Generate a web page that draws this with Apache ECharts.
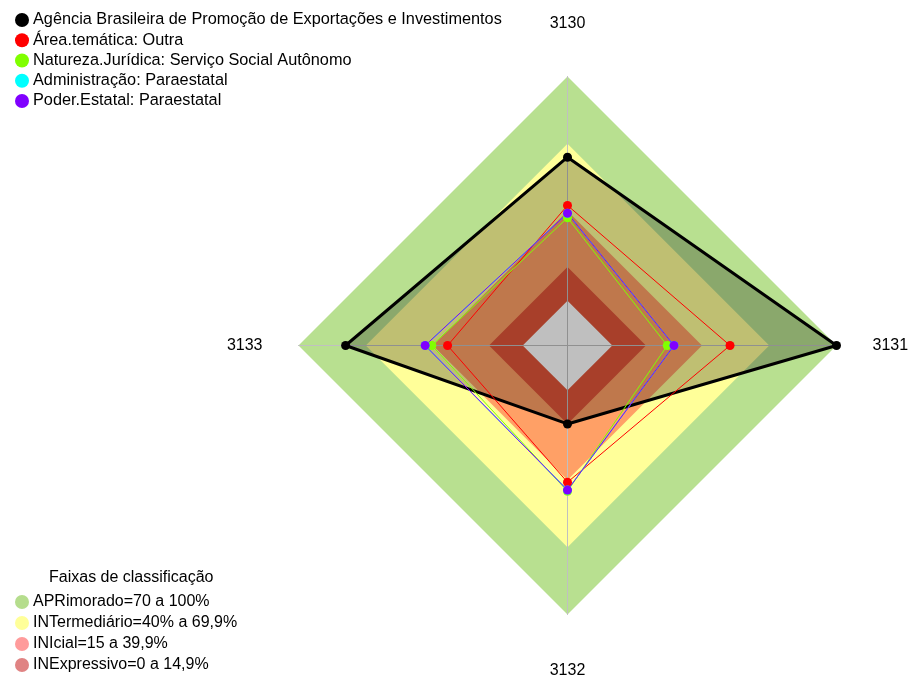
<!DOCTYPE html>
<html>
<head>
<meta charset="utf-8">
<script src="https://cdn.jsdelivr.net/npm/echarts@6/dist/echarts.min.js"></script>
<style>html,body{margin:0;padding:0;background:#fff}#c{width:908px;height:678px}</style>
</head>
<body>
<div id="c"></div>
<script>
// Indicators in clockwise order from top
const indicators = ['3130', '3131', '3132', '3133'];
const axisMin = -20, axisMax = 100;

const seriesNames = [
  'Agência Brasileira de Promoção de Exportações e Investimentos',
  'Área.temática: Outra',
  'Natureza.Jurídica: Serviço Social Autônomo',
  'Administração: Paraestatal',
  'Poder.Estatal: Paraestatal'
];
const seriesColors = ['#000000', '#ff0000', '#80ff00', '#00ffff', '#8000ff'];
// values per indicator [3130, 3131, 3132, 3133]
const agencia = [64, 100, 15, 79];
const areaTematica = [42.5, 52.5, 41, 33.5];
const naturezaJuridica = [37, 24.5, 45, 40.5];
const administracao = [39, 27.5, 44.5, 43.5];
const poderEstatal = [39, 27.5, 44.5, 43.5];
const seriesValues = [agencia, areaTematica, naturezaJuridica, administracao, poderEstatal];

const bandNames = ['APRimorado=70 a 100%', 'INTermediário=40% a 69,9%', 'INIcial=15 a 39,9%', 'INExpressivo=0 a 14,9%'];
const bandLimits = [100, 70, 40, 15];
const bandFill = ['#b8e090', '#ffff99', '#ffa066', '#e05538'];
const bandLegendColors = ['#b5dd8d', '#ffff99', '#ff9b9b', '#e08383'];

// ECharts places indicators counter-clockwise; reorder to top, left, bottom, right
const order = [0, 3, 2, 1];
const reorder = arr => order.map(i => arr[i]);

const font = 'Liberation Sans, Arial, sans-serif';
const series = [];
bandLimits.forEach((lim, i) => {
  series.push({
    type: 'radar', name: bandNames[i], z: 1, silent: true,
    symbol: 'none',
    itemStyle: { color: bandLegendColors[i] },
    lineStyle: { width: 0, opacity: 0 },
    areaStyle: { color: bandFill[i], opacity: 1 },
    data: [{ value: reorder(indicators.map(() => lim)), name: bandNames[i] }]
  });
});
series.push({
  type: 'radar', name: 'centro', z: 1, silent: true, symbol: 'none',
  lineStyle: { width: 0, opacity: 0 },
  areaStyle: { color: '#ffffff', opacity: 1 },
  data: [{ value: reorder(indicators.map(() => 0)), name: 'centro' }]
});
seriesNames.forEach((nm, i) => {
  series.push({
    type: 'radar', name: nm, z: 3, silent: true,
    symbol: 'circle', symbolSize: 9,
    itemStyle: { color: seriesColors[i] },
    lineStyle: { color: seriesColors[i], width: i === 0 ? 3 : 1 },
    areaStyle: i === 0 ? { color: '#000000', opacity: 0.25 } : undefined,
    data: [{ value: reorder(seriesValues[i]), name: nm }]
  });
});

const chart = echarts.init(document.getElementById('c'), null, { renderer: 'canvas' });
chart.setOption({
  animation: false,
  backgroundColor: '#ffffff',
  title: {
    text: 'Faixas de classificação', left: 44, top: 565,
    textStyle: { fontFamily: font, fontSize: 16, fontWeight: 'normal', color: '#000' }
  },
  legend: [
    {
      data: seriesNames, orient: 'vertical', left: 10, top: 7, height: 120,
      icon: 'circle', itemWidth: 14, itemHeight: 14, itemGap: 4.25,
      selectedMode: false,
      textStyle: { fontFamily: font, fontSize: 16.3, color: '#000', padding: [0, 0, 0, -1] }
    },
    {
      data: bandNames.map((n, i) => ({ name: n, itemStyle: { color: bandLegendColors[i] } })),
      orient: 'vertical', left: 10, top: 589, height: 90,
      icon: 'circle', itemWidth: 14, itemHeight: 14, itemGap: 5,
      selectedMode: false,
      textStyle: { fontFamily: font, fontSize: 16, color: '#000', padding: [0, 0, 0, -1] }
    }
  ],
  radar: {
    z: 2,
    center: [567.5, 345.5],
    radius: 269,
    startAngle: 90,
    shape: 'polygon',
    splitNumber: 6,
    nameGap: 36,
    axisName: { color: '#000', fontFamily: font, fontSize: 16, padding: [12, 0, 9, 0] },
    indicator: reorder(indicators).map(n => ({ name: n, min: axisMin, max: axisMax })),
    axisLine: { lineStyle: { color: '#c0c0c0', width: 1 } },
    splitLine: { show: false },
    splitArea: { show: false },
    axisLabel: { show: false },
    axisTick: { show: false }
  },
  series: series
});
</script>
</body>
</html>
